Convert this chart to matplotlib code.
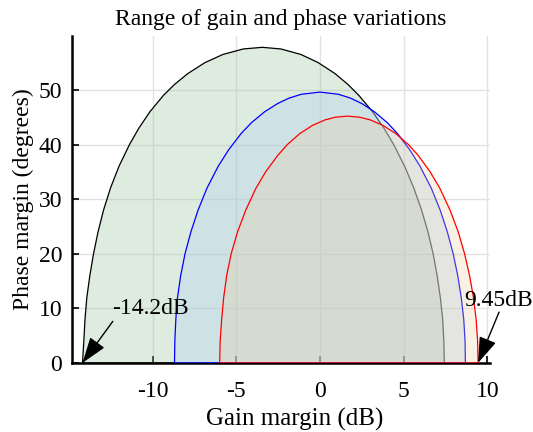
import matplotlib
matplotlib.use("Agg")
import matplotlib.pyplot as plt

plt.rcParams['font.family'] = ['Liberation Serif', 'DejaVu Serif']
plt.rcParams['axes.unicode_minus'] = False

# boundary curves (gain margin dB, phase margin deg),
# going up the left side and down the right side
black_gm = [-14.2, -14.12, -14.05, -13.94, -13.76, -13.54, -13.27, -12.94, -12.53, -12.02,
            -11.39, -10.83, -10.17, -9.36, -8.70, -7.90, -6.88, -5.80, -4.59, -3.45,
            -2.34, -1.15, -0.11, 0.89, 1.67, 2.32, 3.14, 3.82, 4.40, 5.06,
            5.61, 6.07, 6.45, 6.76, 7.00, 7.19, 7.33, 7.40, 7.43]
black_pm = [0, 4, 8, 12, 16, 20, 24, 28, 32, 36,
            40, 43, 46, 49, 51, 53, 55, 56.5, 57.5, 57.8,
            57.5, 56.5, 55, 53, 51, 49, 46, 43, 40, 36,
            32, 28, 24, 20, 16, 12, 8, 4, 0]

blue_gm = [-8.70, -8.68, -8.62, -8.52, -8.33, -8.07, -7.72, -7.29, -6.76, -6.09,
           -5.47, -4.72, -4.10, -3.31, -2.54, -1.85, -1.12, 0.0,
           1.10, 1.82, 2.50, 3.25, 4.02, 4.63, 5.37, 5.98, 6.65,
           7.18, 7.61, 7.96, 8.23, 8.44, 8.59, 8.67, 8.69]
blue_pm = [0, 4, 8, 12, 16, 20, 24, 28, 32, 36,
           39, 42, 44, 46, 47.5, 48.5, 49.2, 49.6,
           49.2, 48.5, 47.5, 46, 44, 42, 39, 36, 32,
           28, 24, 20, 16, 12, 8, 4, 0]

red_gm = [-6.0, -5.97, -5.88, -5.76, -5.58, -5.31, -4.93, -4.44, -3.83, -3.25,
          -2.53, -1.95, -1.21, -0.45, 0.29, 0.92, 1.64,
          2.37, 3.01, 3.76, 4.53, 5.28, 5.87, 6.58, 7.16,
          7.77, 8.26, 8.64, 8.94, 9.17, 9.33, 9.42, 9.45]
red_pm = [0, 4, 8, 12, 16, 20, 24, 28, 32, 35,
          38, 40, 42, 43.5, 44.5, 45.0, 45.2,
          45.0, 44.5, 43.5, 42, 40, 38, 35, 32,
          28, 24, 20, 16, 12, 8, 4, 0]

lo_gm = -14.2
hi_gm = 9.45

fig = plt.figure(figsize=(5.33, 4.32), dpi=100)
ax = fig.add_axes([0.135, 0.160, 0.784, 0.757])

ax.grid(True, color='#e2e2e2', linewidth=1.0, zorder=0)
ax.set_axisbelow(True)

ax.fill(black_gm, black_pm, color=(148/255, 192/255, 152/255), alpha=0.3, lw=0, zorder=2)
ax.plot(black_gm + [black_gm[0]], black_pm + [black_pm[0]], color='black', lw=0.9, zorder=2)
ax.fill(blue_gm, blue_pm, color=(182/255, 210/255, 240/255), alpha=0.4, lw=0, zorder=3)
ax.plot(blue_gm + [blue_gm[0]], blue_pm + [blue_pm[0]], color='blue', lw=0.9, zorder=3)
ax.fill(red_gm, red_pm, color=(236/255, 205/255, 160/255), alpha=0.28, lw=0, zorder=4)
ax.plot(red_gm + [red_gm[0]], red_pm + [red_pm[0]], color='red', lw=0.9, zorder=4)

arrow = dict(arrowstyle='-|>,head_length=1.6,head_width=0.55', color='black',
             lw=1.0, shrinkA=0, shrinkB=0)
ax.annotate('', xy=(lo_gm, 0), xytext=(-12.39, 7.6), arrowprops=arrow,
            zorder=6, annotation_clip=False)
ax.text(-12.4, 9.9, '-14.2dB', fontsize=17, va='center', ha='left', zorder=6)
ax.annotate('', xy=(hi_gm, 0), xytext=(10.7, 9.3), arrowprops=arrow,
            zorder=6, annotation_clip=False)
ax.text(8.6, 11.5, '9.45dB', fontsize=17, va='center', ha='left', zorder=6)

ax.set_xlim(-14.83, 10.15)
ax.set_ylim(0, 59.9)
ax.set_xticks([-10, -5, 0, 5, 10])
ax.set_yticks([0, 10, 20, 30, 40, 50])

for s in ['top', 'right']:
    ax.spines[s].set_visible(False)
for s in ['left', 'bottom']:
    ax.spines[s].set_linewidth(1.8)
    ax.spines[s].set_zorder(1.9)
ax.tick_params(direction='in', length=5, width=1.2, labelsize=17)
ax.tick_params(axis='x', pad=13)
ax.tick_params(axis='y', pad=7)

ax.set_title('Range of gain and phase variations', fontsize=17, pad=8)
ax.set_xlabel('Gain margin (dB)', fontsize=18)
ax.xaxis.set_label_coords(0.533, -0.138)
ax.set_ylabel('Phase margin (degrees)', fontsize=17, labelpad=3)

fig.savefig('out.png', dpi=100)
